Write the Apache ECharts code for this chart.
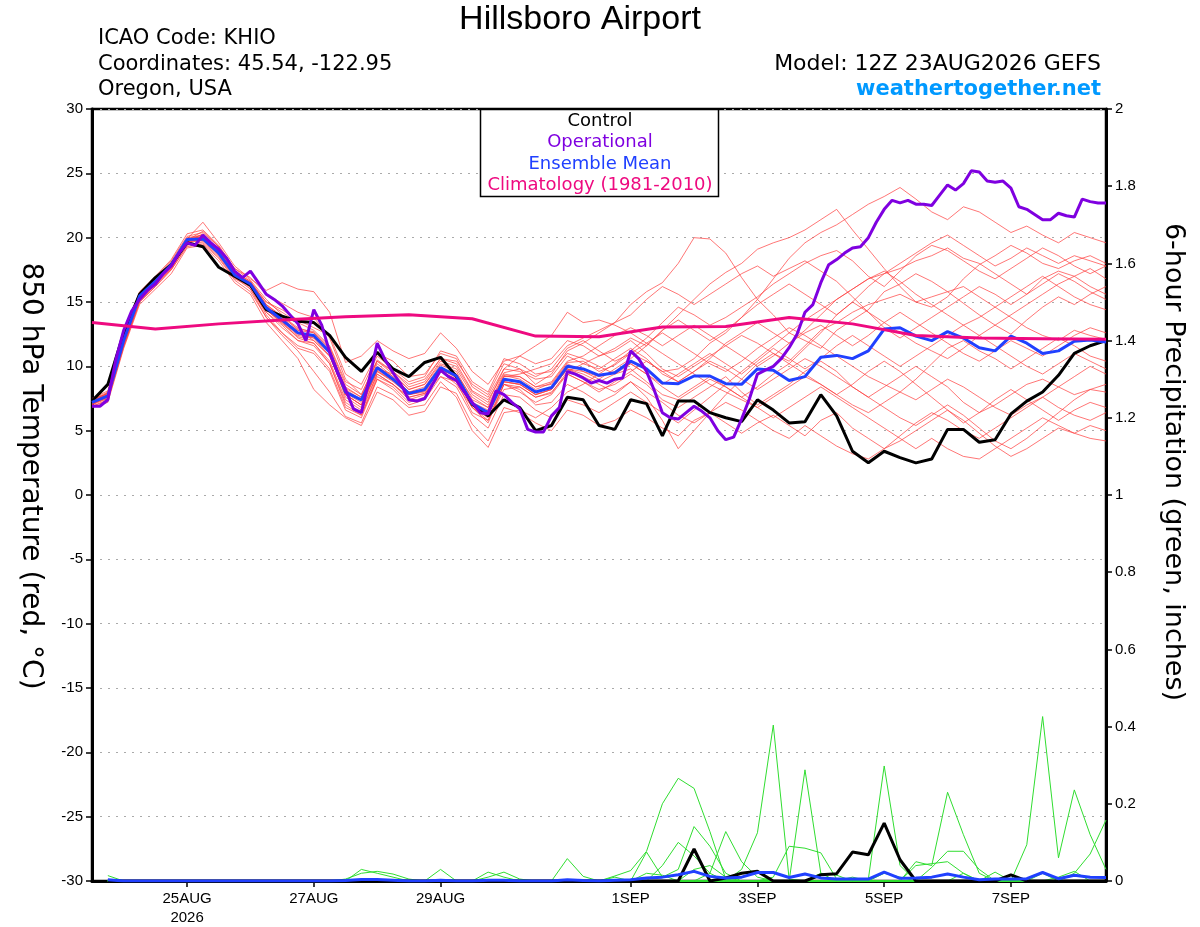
<!DOCTYPE html>
<html><head><meta charset="utf-8">
<script src="https://cdn.jsdelivr.net/npm/echarts@6/dist/echarts.min.js"></script>
<style>html,body{margin:0;padding:0;background:#fff}#c{width:1200px;height:927px}</style>
</head><body><div id="c"></div>
<script>
// ---- time axis (hours since 23AUG2026 00Z) ----
const tickHours = [48, 96, 144, 216, 264, 312, 360];
const tickLabels = ['25AUG\n2026', '27AUG', '29AUG', '1SEP', '3SEP', '5SEP', '7SEP'];

// ---- 850 hPa temperature (6-hourly from 23AUG 12Z) ----
const controlTemp = [7.3,8.6,12.6,15.6,16.9,17.9,19.6,19.3,17.7,17.0,16.3,14.4,13.9,13.5,13.4,12.4,10.7,9.6,11.1,9.8,9.2,10.3,10.7,9.2,7.05,6.15,7.4,6.8,5.0,5.4,7.6,7.4,5.4,5.1,7.4,7.1,4.6,7.3,7.3,6.4,6.0,5.7,7.4,6.6,5.6,5.7,7.8,6.15,3.4,2.5,3.4,2.9,2.5,2.8,5.1,5.1,4.1,4.3,6.3,7.3,8.0,9.3,11.0,11.6,12.0];
const meanTemp = [7.2,7.7,12.0,15.45,16.6,17.9,19.85,19.9,18.8,17.1,16.4,14.55,13.6,12.6,12.4,11.1,8.0,7.4,9.9,9.0,7.9,8.2,9.9,9.25,7.1,6.4,9.0,8.8,8.0,8.35,10.0,9.8,9.3,9.5,10.4,9.8,8.7,8.65,9.25,9.25,8.65,8.6,9.8,9.7,8.9,9.2,10.7,10.85,10.6,11.2,12.9,13.0,12.35,12.0,12.7,12.2,11.45,11.2,12.35,11.8,11.0,11.2,11.95,12.05,11.9];
// operational run is 3-hourly
const operationalTemp = [6.9,6.9,7.4,10.5,12.8,14.3,15.2,15.9,16.4,17.2,17.8,18.8,19.6,19.4,20.2,19.6,19.1,18.4,17.4,16.9,17.4,16.5,15.6,15.2,14.7,14.0,13.3,12.0,14.4,13.2,11.1,9.5,8.2,6.7,6.4,9.0,11.8,10.5,9.5,8.6,7.4,7.3,7.5,8.6,9.7,9.2,8.9,8.0,7.2,6.4,6.3,8.1,7.8,7.2,6.7,5.1,4.9,4.9,6.15,6.8,9.6,9.4,9.1,8.7,8.9,8.7,9.0,9.1,11.2,10.6,9.6,8.1,6.4,6.0,5.9,6.4,6.9,6.5,6.0,5.0,4.3,4.5,5.9,7.5,9.4,9.7,10.0,10.6,11.45,12.5,14.2,14.8,16.5,17.9,18.3,18.8,19.2,19.3,20.0,21.2,22.2,22.9,22.7,22.9,22.6,22.6,22.5,23.3,24.1,23.7,24.2,25.2,25.1,24.4,24.3,24.4,23.85,22.4,22.2,21.8,21.4,21.4,21.9,21.7,21.6,23.0,22.8,22.7,22.7];
// climatology, daily at 12Z
const climatologyTemp = [13.4,12.9,13.3,13.6,13.85,14.0,13.7,12.35,12.3,13.05,13.1,13.8,13.3,12.4,12.2,12.15,12.1];

const member01 = [7.0,8.0,12.5,15.8,17.0,18.3,20.3,20.6,19.4,17.6,16.9,15.6,14.9,14.2,13.8,12.2,9.0,7.8,10.5,9.6,8.6,9.0,10.6,10.2,8.1,7.4,9.5,9.8,8.6,9.4,11.2,11.8,12.6,13.4,14.8,15.8,16.5,18.0,20.0,19.9,18.8,16.9,15.2,14.0,12.6,12.0,11.4,12.8,13.6,14.4,15.8,16.4,17.2,16.6,15.8,14.9,14.0,13.2,12.5,13.6,14.6,15.4,14.8,15.6,16.2];
const member02 = [7.4,7.9,11.6,15.0,16.4,17.6,19.6,20.0,19.2,17.4,16.0,14.2,13.0,12.0,11.8,10.2,7.2,6.4,9.4,8.6,7.6,7.9,9.2,8.8,6.4,5.8,8.2,8.4,7.6,7.9,9.6,10.2,10.8,11.4,12.2,11.6,12.8,14.0,15.2,16.4,17.3,18.0,19.1,19.6,20.0,20.6,21.4,22.2,20.6,19.1,17.6,16.2,15.0,14.6,15.4,16.8,17.9,18.6,19.4,18.8,18.0,17.6,18.2,18.6,18.0];
const member03 = [7.1,7.5,12.2,15.6,16.8,18.1,20.0,20.2,19.0,17.3,16.6,14.8,13.9,13.0,12.6,11.3,8.3,7.6,10.2,9.2,8.0,8.4,10.1,9.6,7.4,6.8,9.3,9.0,8.2,8.7,10.3,10.4,9.6,10.1,11.0,10.4,9.6,9.8,10.6,11.8,12.6,13.8,15.2,16.8,18.4,19.6,20.4,21.0,21.8,22.6,23.2,23.9,23.0,22.0,21.4,22.4,22.0,21.2,20.4,20.9,20.2,19.6,20.4,20.0,19.6];
const member04 = [6.8,7.2,11.4,14.8,16.0,17.2,19.2,19.4,18.2,16.5,15.6,13.4,12.0,10.6,8.2,7.0,6.0,5.4,8.0,7.4,6.2,6.5,8.4,7.9,5.5,4.2,6.8,6.4,5.6,5.0,6.6,6.2,5.4,5.8,6.6,6.0,5.2,4.6,5.8,6.4,5.6,4.8,5.6,6.2,5.4,4.6,5.8,6.4,5.2,4.4,3.6,4.2,5.0,5.8,6.6,5.8,4.8,3.8,3.0,3.6,4.4,5.2,4.8,5.4,5.0];
const member05 = [7.3,7.8,12.3,15.5,16.7,18.0,19.9,21.2,19.6,17.8,16.8,15.9,16.5,16.0,15.8,14.2,10.3,10.8,12.0,11.2,10.6,11.0,12.6,11.4,9.6,8.6,10.4,10.8,10.2,10.6,12.0,11.6,10.8,11.2,12.0,11.0,9.8,9.2,10.0,10.8,11.6,12.4,11.8,11.0,10.4,11.6,12.8,13.4,14.2,14.8,15.2,15.6,15.0,15.4,15.8,16.2,15.4,14.6,13.8,13.0,12.4,12.0,12.8,12.4,12.1];
const member06 = [7.2,7.6,11.8,15.2,16.4,17.7,19.5,19.6,18.5,16.8,16.2,14.0,12.6,11.4,11.0,9.6,6.6,6.0,9.0,8.4,7.2,7.6,9.6,8.6,6.8,5.6,8.6,8.0,7.2,7.8,9.4,8.8,8.2,8.6,9.4,8.6,7.4,6.8,7.6,8.4,9.2,8.0,7.0,7.8,8.6,9.6,10.4,9.6,8.4,7.6,8.4,9.2,10.0,9.2,8.4,7.2,6.4,7.0,7.8,8.6,9.0,8.4,7.8,8.2,8.0];
const member07 = [7.0,7.7,12.1,15.3,16.5,17.8,19.8,20.1,19.0,17.2,16.5,15.0,14.4,13.6,13.0,12.4,9.4,8.6,11.0,10.4,9.2,9.4,11.0,10.6,8.4,7.6,9.8,9.6,9.0,9.2,10.8,10.2,9.8,10.6,11.4,10.6,9.4,8.8,9.6,10.6,11.8,12.6,13.4,12.6,11.8,12.8,14.0,15.2,16.0,16.8,17.2,17.6,18.2,18.6,19.2,18.4,18.0,17.2,16.4,15.6,16.4,17.2,16.6,15.8,15.2];
const member08 = [7.5,8.1,12.6,15.7,16.9,18.2,20.1,20.4,19.3,17.6,16.7,15.2,14.0,12.8,12.0,10.8,7.8,7.0,9.8,9.4,8.2,8.6,10.4,10.0,8.0,7.2,9.8,10.8,11.6,12.4,14.2,13.4,13.6,13.2,12.6,11.8,11.0,10.2,9.4,8.6,8.0,7.4,6.8,7.6,8.4,9.2,8.6,7.8,7.0,6.4,7.2,8.0,9.0,10.2,11.4,12.0,11.2,10.6,9.8,10.6,11.4,12.2,11.6,10.8,10.4];
const member09 = [6.9,7.4,11.5,15.0,16.2,17.5,19.4,19.7,18.6,16.9,16.0,13.8,12.4,11.2,9.6,8.0,6.1,5.6,8.4,7.8,6.8,7.0,8.8,7.6,5.0,3.7,6.4,6.6,6.0,6.8,8.0,8.6,9.4,10.2,11.2,12.2,13.4,14.6,14.0,13.2,13.8,14.6,15.4,16.4,17.2,18.0,18.6,19.0,18.2,17.0,16.2,17.4,18.6,19.4,19.0,18.2,17.4,16.8,17.6,18.4,19.2,18.6,17.8,17.2,17.8];
const member10 = [7.3,7.9,12.4,15.6,16.8,18.0,19.7,19.8,18.7,17.0,16.3,14.4,13.4,12.4,12.2,11.2,8.4,7.6,10.4,9.6,8.4,8.8,10.6,10.4,8.6,7.8,10.2,9.8,9.2,9.8,11.4,12.0,11.2,10.4,11.0,11.8,12.6,11.8,11.0,10.2,9.6,10.4,11.4,12.2,13.0,12.4,11.6,10.8,10.0,9.2,8.6,8.0,7.4,8.2,9.0,8.4,7.6,6.8,6.2,7.0,7.6,6.8,6.2,5.8,6.4];
const member11 = [7.1,7.6,11.9,15.2,16.5,17.8,19.7,20.3,19.1,17.4,16.6,15.0,14.2,13.4,12.8,11.6,8.8,8.2,10.8,9.8,8.8,9.2,11.2,10.8,8.8,8.0,10.6,10.2,9.4,9.6,11.0,10.6,10.0,9.4,9.8,8.8,7.8,7.4,8.2,9.0,8.4,7.6,8.4,9.4,10.2,11.4,12.6,14.0,15.0,14.2,13.4,12.6,11.8,11.2,10.6,11.4,12.4,13.2,14.0,14.8,15.6,16.4,17.0,16.2,15.6];
const member12 = [7.2,7.7,12.0,15.4,16.6,17.9,19.9,20.0,18.9,17.2,16.4,14.6,13.6,12.8,12.6,11.4,8.2,7.4,10.0,9.2,8.0,8.2,9.8,9.2,7.2,6.4,8.8,8.6,7.8,8.2,9.8,9.2,8.6,8.0,8.8,8.0,7.2,6.2,5.6,6.4,7.2,6.6,5.8,5.0,4.4,5.4,4.6,3.8,3.2,2.8,3.6,4.6,5.6,6.4,5.8,5.0,4.4,5.2,6.0,6.8,7.6,8.4,9.2,10.0,9.4];
const member13 = [7.4,8.0,12.2,15.5,16.7,18.0,19.8,20.5,19.3,17.4,16.4,14.7,13.8,12.6,12.4,11.0,7.6,6.8,9.6,8.8,7.8,8.0,9.6,9.4,7.6,6.8,9.2,9.4,9.8,10.2,11.6,12.2,12.8,13.4,14.0,15.2,16.2,15.6,14.8,15.6,16.4,17.2,17.8,17.0,17.6,18.2,17.4,16.6,15.4,14.2,13.0,12.2,13.0,13.8,14.6,15.4,16.2,15.6,14.8,15.6,16.8,17.4,17.0,17.6,16.8];
const member14 = [7.0,7.5,11.7,15.1,16.3,17.6,19.6,19.8,18.7,17.0,16.2,14.2,13.2,12.0,11.6,10.2,7.0,6.2,9.2,8.6,7.4,7.8,9.6,9.0,6.8,5.8,8.6,8.2,7.0,7.2,8.6,8.0,7.2,7.8,8.8,7.6,5.8,3.6,5.0,6.4,7.8,9.0,10.2,11.0,10.2,9.4,8.6,7.8,8.6,9.6,10.4,9.6,8.6,7.6,6.6,5.6,6.4,7.4,8.2,7.4,6.6,5.8,6.6,7.2,6.8];
const member15 = [7.3,7.8,12.2,15.4,16.5,17.8,19.8,20.0,18.9,17.1,16.3,14.5,13.5,12.5,12.3,11.0,7.9,7.2,9.8,9.0,7.9,8.2,9.9,9.4,7.2,6.6,9.2,9.2,8.4,8.8,10.4,10.8,11.6,12.4,13.0,12.4,11.6,12.4,13.2,12.4,11.6,10.8,10.0,10.8,11.8,12.6,13.2,12.4,11.6,12.4,13.4,14.2,13.4,12.6,11.8,11.0,10.4,11.2,12.0,11.4,10.8,11.6,12.4,13.0,12.6];
const member16 = [7.1,7.6,11.9,15.3,16.5,17.8,19.7,19.9,18.8,17.0,16.3,14.4,13.3,12.3,12.0,10.8,7.8,7.0,9.6,8.9,7.8,8.1,9.8,9.2,7.0,6.2,8.8,8.6,7.8,8.2,9.8,9.4,8.8,9.4,10.2,9.4,8.4,7.6,8.4,9.2,8.4,7.6,6.8,6.0,6.8,7.6,8.4,7.6,6.8,6.0,5.2,4.4,3.6,4.4,3.6,3.0,2.8,3.6,4.4,5.2,6.0,5.4,4.8,4.4,4.2];
const member17 = [7.2,7.8,12.1,15.5,16.6,17.9,19.9,20.2,19.1,17.3,16.5,14.8,13.8,12.9,12.7,11.5,8.6,7.8,10.4,9.4,8.2,8.6,10.2,9.8,7.8,7.0,9.4,9.2,8.4,8.6,10.2,9.6,9.0,9.8,10.6,11.6,12.8,13.6,12.8,12.0,12.8,13.8,14.8,15.6,16.4,15.6,14.8,14.0,15.0,16.2,17.2,18.0,18.8,19.6,20.2,19.4,18.6,17.8,18.4,19.2,18.6,18.0,18.6,18.2,17.8];
const member18 = [7.4,7.9,12.3,15.6,16.7,18.0,19.9,20.1,19.0,17.2,16.5,14.6,13.5,12.6,12.2,10.8,7.8,7.0,9.7,8.9,7.8,8.1,9.8,9.1,7.0,6.3,8.8,8.6,7.8,8.2,9.8,9.6,9.2,9.6,10.2,9.4,8.6,9.4,10.2,11.0,10.2,9.4,10.4,11.4,10.6,9.8,10.6,11.6,12.4,11.6,10.8,10.0,10.8,11.6,12.4,13.2,12.4,11.6,10.8,10.0,9.4,10.2,11.0,10.4,9.8];
const member19 = [6.9,7.3,11.6,15.0,16.2,17.5,19.3,19.5,18.4,16.7,15.8,13.8,12.6,11.6,11.2,9.8,6.8,6.2,9.0,8.2,7.0,7.4,9.2,8.4,6.2,5.2,7.8,7.6,6.6,6.0,7.4,7.0,6.4,7.2,8.0,7.2,6.4,5.6,6.6,7.6,8.6,9.6,10.6,11.6,12.6,13.6,14.4,15.2,16.0,16.8,17.4,16.6,15.6,14.8,14.0,13.2,13.8,14.6,15.4,16.2,17.0,16.2,15.4,14.8,14.4];
const member20 = [7.2,7.7,12.0,15.4,16.6,17.9,19.8,20.0,18.9,17.1,16.4,14.4,13.4,12.2,11.8,10.4,7.4,6.6,9.4,8.6,7.6,7.9,9.6,9.0,6.8,6.0,8.6,8.4,7.6,8.0,9.4,8.8,8.0,8.8,9.6,10.4,9.6,8.8,9.6,10.4,9.8,9.0,8.2,9.0,9.8,10.6,10.0,9.2,8.4,7.6,6.8,6.0,5.4,6.2,7.0,6.2,5.2,4.2,3.6,4.4,5.4,6.4,7.4,8.2,8.6];
const memberTemps = [member01,member02,member03,member04,member05,member06,member07,member08,member09,member10,member11,member12,member13,member14,member15,member16,member17,member18,member19,member20];

// ---- 6-hour precipitation (inches), 6-hourly; first step has no accumulation ----
const controlPrecip = [null,0,0,0,0,0,0,0,0,0, 0,0,0,0,0,0,0,0,0,0, 0,0,0,0,0,0,0,0,0,0, 0,0,0,0,0,0,0,0,0.083,0, 0.008,0.02,0.025,0,0,0,0.016,0.019,0.075,0.068, 0.15,0.055,0,0,0,0,0,0,0.016,0, 0,0,0,0,0];
const meanPrecip = [null,0.003,0,0,0,0,0,0,0,0, 0,0,0,0,0,0,0.001,0.004,0.004,0.002, 0,0,0.002,0,0,0.002,0.002,0,0,0, 0.003,0.001,0,0.002,0.003,0.008,0.010,0.016,0.025,0.012, 0.008,0.010,0.022,0.022,0.009,0.018,0.008,0.005,0.005,0.005, 0.023,0.007,0.008,0.010,0.018,0.010,0.003,0.005,0.005,0.006, 0.022,0.006,0.015,0.010,0.009];
const precip01 = [null,0,0,0,0,0,0,0,0,0, 0,0,0,0,0,0,0,0,0,0, 0,0,0,0,0,0,0,0,0,0, 0,0,0,0.013,0.027,0.077,0.20,0.266,0.24,0.128, 0.005,0,0,0,0,0,0,0,0,0, 0,0,0,0,0,0,0,0,0,0, 0,0,0,0,0];
const precip02 = [null,0,0,0,0,0,0,0,0,0, 0,0,0,0,0,0,0,0,0,0, 0,0,0,0,0,0,0,0,0,0, 0,0,0,0,0,0.075,0.01,0.03,0.141,0.09, 0.02,0,0,0,0,0,0,0,0,0, 0,0,0,0,0,0,0,0,0,0, 0,0,0,0,0];
const precip03 = [null,0,0,0,0,0,0,0,0,0, 0,0,0,0,0,0,0,0,0,0, 0,0,0,0,0,0,0,0,0,0, 0,0,0,0,0,0,0,0,0,0.02, 0.128,0.05,0.01,0,0,0,0,0,0,0, 0,0,0,0,0,0,0,0,0,0, 0,0,0,0,0];
const precip04 = [null,0,0,0,0,0,0,0,0,0, 0,0,0,0,0,0,0,0,0,0, 0,0,0,0,0,0,0,0,0,0, 0,0,0,0,0,0,0,0,0,0, 0,0.03,0.125,0.404,0.005,0,0,0,0,0, 0,0,0,0,0,0,0,0,0,0, 0,0,0,0,0];
const precip05 = [null,0,0,0,0,0,0,0,0,0, 0,0,0,0,0,0,0,0,0,0, 0,0,0,0,0,0,0,0,0,0, 0,0,0,0,0,0,0,0,0,0, 0,0,0,0,0,0.288,0.02,0,0,0, 0,0,0,0,0,0,0,0,0,0, 0,0,0,0,0];
const precip06 = [null,0,0,0,0,0,0,0,0,0, 0,0,0,0,0,0,0,0,0,0, 0,0,0,0,0,0,0,0,0,0, 0,0,0,0,0,0,0,0,0,0, 0,0,0,0.01,0.09,0.085,0.073,0.005,0,0, 0,0,0,0,0,0,0,0,0,0, 0,0,0,0,0];
const precip07 = [null,0,0,0,0,0,0,0,0,0, 0,0,0,0,0,0,0,0,0,0, 0,0,0,0,0,0,0,0,0,0, 0,0,0,0,0,0,0,0,0,0, 0,0,0,0,0,0,0,0,0,0.005, 0.298,0.04,0,0,0,0,0,0,0,0, 0,0,0,0,0];
const precip08 = [null,0,0,0,0,0,0,0,0,0, 0,0,0,0,0,0,0,0,0,0, 0,0,0,0,0,0,0,0,0,0, 0,0,0,0,0,0,0,0,0,0, 0,0,0,0,0,0,0,0,0,0, 0,0,0.05,0.04,0.23,0.12,0.02,0,0,0, 0,0,0,0,0];
const precip09 = [null,0,0,0,0,0,0,0,0,0, 0,0,0,0,0,0,0,0,0,0, 0,0,0,0,0,0,0,0,0,0, 0,0,0,0,0,0,0,0,0,0, 0,0,0,0,0,0,0,0,0,0, 0,0,0,0.035,0.077,0.077,0.03,0,0,0, 0,0,0,0,0];
const precip10 = [null,0,0,0,0,0,0,0,0,0, 0,0,0,0,0,0,0,0,0,0, 0,0,0,0,0,0,0,0,0,0, 0,0,0,0,0,0,0,0,0,0, 0,0,0,0,0,0,0,0,0,0, 0,0,0.04,0.045,0.05,0.02,0,0.023,0,0, 0,0,0,0,0];
const precip11 = [null,0,0,0,0,0,0,0,0,0, 0,0,0,0,0,0,0,0,0,0, 0,0,0,0,0,0,0,0,0,0, 0,0,0,0,0,0,0,0,0,0, 0,0,0,0,0,0,0,0,0,0, 0,0,0,0,0,0,0,0,0,0.094, 0.426,0.06,0.236,0.12,0.03];
const precip12 = [null,0,0,0,0,0,0,0,0,0, 0,0,0,0,0,0,0,0,0,0, 0,0,0,0,0,0,0,0,0,0, 0,0,0,0,0,0,0,0,0,0, 0,0,0,0,0,0,0,0,0,0, 0,0,0,0,0,0,0,0,0,0, 0,0,0.02,0.07,0.158];
const precip13 = [null,0.014,0,0,0,0,0,0,0,0, 0,0,0,0,0,0,0,0.03,0.02,0.01, 0,0,0,0,0,0,0,0,0,0, 0,0,0,0,0,0,0,0,0,0, 0,0,0,0,0,0,0,0,0,0, 0,0,0,0,0,0,0,0,0,0, 0,0,0,0,0];
const precip14 = [null,0,0,0,0,0,0,0,0,0, 0,0,0,0,0,0,0.005,0.02,0.025,0.018, 0.005,0,0,0,0,0,0,0,0,0, 0,0,0,0,0,0,0,0,0,0, 0,0,0,0,0,0,0,0,0,0, 0,0,0,0,0,0,0,0,0,0, 0,0,0,0,0];
const precip15 = [null,0,0,0,0,0,0,0,0,0, 0,0,0,0,0,0,0,0,0,0, 0,0,0.03,0,0,0.01,0.023,0.005,0,0, 0,0,0,0,0,0,0,0,0,0, 0,0,0,0,0,0,0,0,0,0, 0,0,0,0,0,0,0,0,0,0, 0,0,0,0,0];
const precip16 = [null,0,0,0,0,0,0,0,0,0, 0,0,0,0,0,0,0,0,0,0, 0,0,0,0,0,0.023,0.01,0,0,0, 0.058,0.012,0,0,0,0,0,0,0,0, 0,0,0,0,0,0,0,0,0,0, 0,0,0,0,0,0,0,0,0,0, 0,0,0,0,0];
const precip17 = [null,0,0,0,0,0,0,0,0,0, 0,0,0,0,0,0,0,0,0,0, 0,0,0,0,0,0,0,0,0,0, 0,0,0,0.01,0,0.02,0.015,0,0.03,0.04, 0.01,0,0,0,0,0,0,0,0,0, 0,0,0,0,0,0,0,0,0,0, 0,0,0,0,0];
const precip18 = [null,0,0,0,0,0,0,0,0,0, 0,0,0,0,0,0,0,0,0,0, 0,0,0,0,0,0,0,0,0,0, 0,0,0,0,0,0,0,0,0,0, 0,0,0,0,0,0,0.02,0.015,0,0, 0,0,0,0,0,0.02,0,0,0,0, 0,0.01,0.025,0,0];
const precip19 = [null,0,0,0,0,0,0,0,0,0, 0,0,0,0,0,0,0,0,0,0, 0,0,0,0,0,0,0,0,0,0, 0,0,0,0,0,0,0.04,0.10,0.065,0.02, 0,0,0,0,0,0,0,0,0,0, 0,0,0,0,0,0,0,0,0,0, 0,0,0,0,0];
const precip20 = [null,0,0,0,0,0,0,0,0,0, 0,0,0,0,0,0,0,0,0,0, 0,0,0,0,0,0,0,0,0,0, 0,0,0,0,0,0,0,0,0,0, 0,0,0,0,0,0,0,0,0.01,0, 0.02,0.01,0,0,0,0,0,0,0.015,0, 0.02,0,0,0,0];
const memberPrecips = [precip01,precip02,precip03,precip04,precip05,precip06,precip07,precip08,precip09,precip10,precip11,precip12,precip13,precip14,precip15,precip16,precip17,precip18,precip19,precip20];

// ---- helpers mapping arrays onto the time axis ----
const START = 12; // 23AUG 12Z
const at6 = a => a.map((v, i) => [START + 6 * i, v]);
const at3 = a => a.map((v, i) => [START + 3 * i, v]);
const at24 = a => a.map((v, i) => [START + 24 * i, v]);

const FONT = '"Liberation Sans", Arial, Helvetica, sans-serif';
const WFONT = '"DejaVu Sans", Verdana, sans-serif';
const C_OP = '#7f00e0', C_MEAN = '#2040ff', C_CLIM = '#ee0a80', C_RED = 'rgba(255,60,60,0.7)', C_GREEN = '#30dd30';

const series = [];
memberTemps.forEach(m => series.push({type:'line', data: at6(m), xAxisIndex:0, yAxisIndex:0, symbol:'none', lineStyle:{color:C_RED, width:1}, z:2, silent:true}));
memberPrecips.forEach(m => series.push({type:'line', data: at6(m), xAxisIndex:0, yAxisIndex:1, symbol:'none', connectNulls:false, lineStyle:{color:C_GREEN, width:1}, z:2, silent:true}));
series.push({type:'line', data: at6(controlTemp), yAxisIndex:0, symbol:'none', lineStyle:{color:'#000', width:3}, z:3});
series.push({type:'line', data: at6(controlPrecip), yAxisIndex:1, symbol:'none', lineStyle:{color:'#000', width:3}, z:3});
series.push({type:'line', data: at6(meanTemp), yAxisIndex:0, symbol:'none', lineStyle:{color:C_MEAN, width:3}, z:4});
series.push({type:'line', data: at6(meanPrecip), yAxisIndex:1, symbol:'none', lineStyle:{color:C_MEAN, width:3}, z:4});
series.push({type:'line', data: at3(operationalTemp), yAxisIndex:0, symbol:'none', lineStyle:{color:C_OP, width:3}, z:5});
series.push({type:'line', data: at24(climatologyTemp), yAxisIndex:0, symbol:'none', lineStyle:{color:C_CLIM, width:3}, z:6});

const chart = echarts.init(document.getElementById('c'), null, {renderer:'canvas'});
chart.setOption({
  animation: false,
  backgroundColor: '#fff',
  grid: {left: 92, right: 94, top: 109, bottom: 44, show: true, borderColor: '#000', borderWidth: 2.5, backgroundColor: 'transparent'},
  xAxis: {
    type: 'value', min: 12, max: 396,
    axisLine: {show: true, onZero: false, lineStyle: {color: '#000', width: 3}},
    axisTick: {show: true, length: 6, customValues: tickHours, lineStyle: {color: '#000', width: 1.5}},
    axisLabel: {customValues: tickHours, color: '#000', fontSize: 15, fontFamily: FONT, margin: 8, lineHeight: 19,
      formatter: v => tickLabels[tickHours.indexOf(v)] || ''},
    splitLine: {show: false}
  },
  yAxis: [
    {type: 'value', position: 'left', min: -30, max: 30, interval: 5,
     axisLine: {show: true, lineStyle: {color: '#000', width: 3}},
     axisTick: {show: true, length: 6, lineStyle: {color: '#000', width: 1.5}},
     axisLabel: {color: '#000', fontSize: 15, fontFamily: FONT, margin: 9},
     splitLine: {show: true, lineStyle: {color: '#aaaaaa', width: 1, type: [2, 6]}}},
    {type: 'value', position: 'right', min: 0, max: 2, interval: 0.2,
     axisLine: {show: true, lineStyle: {color: '#000', width: 3}},
     axisTick: {show: true, length: 6, lineStyle: {color: '#000', width: 1.5}},
     axisLabel: {color: '#000', fontSize: 15, fontFamily: FONT, margin: 9},
     splitLine: {show: false}}
  ],
  series: series,
  graphic: [
    {type:'text', x: 580, y: 20, z: 10, style:{text:'Hillsboro Airport', font:'34px '+FONT, fill:'#000', align:'center', verticalAlign:'middle'}},
    {type:'text', x: 98, y: 39, z: 10, style:{text:'ICAO Code: KHIO', font:'21px '+WFONT, fill:'#000', verticalAlign:'middle'}},
    {type:'text', x: 98, y: 64.5, z: 10, style:{text:'Coordinates: 45.54, -122.95', font:'21px '+WFONT, fill:'#000', verticalAlign:'middle'}},
    {type:'text', x: 98, y: 90, z: 10, style:{text:'Oregon, USA', font:'21px '+WFONT, fill:'#000', verticalAlign:'middle'}},
    {type:'text', x: 1101, y: 64, z: 10, style:{text:'Model: 12Z 23AUG2026 GEFS', font:'22px '+WFONT, fill:'#000', align:'right', verticalAlign:'middle'}},
    {type:'text', x: 1101, y: 90, z: 10, style:{text:'weathertogether.net', font:'bold 21px '+WFONT, fill:'#0099ff', align:'right', verticalAlign:'middle'}},
    {type:'rect', z: 20, shape:{x: 480.5, y: 109.5, width: 238, height: 87}, style:{fill:'#fff', stroke:'#000', lineWidth: 1.5}},
    {type:'text', z: 21, x: 600, y: 121, style:{text:'Control', font:'18px '+WFONT, fill:'#000', align:'center', verticalAlign:'middle'}},
    {type:'text', z: 21, x: 600, y: 142.5, style:{text:'Operational', font:'18px '+WFONT, fill:C_OP, align:'center', verticalAlign:'middle'}},
    {type:'text', z: 21, x: 600, y: 164, style:{text:'Ensemble Mean', font:'18px '+WFONT, fill:C_MEAN, align:'center', verticalAlign:'middle'}},
    {type:'text', z: 21, x: 600, y: 185.5, style:{text:'Climatology (1981-2010)', font:'18px '+WFONT, fill:C_CLIM, align:'center', verticalAlign:'middle'}},
    {type:'text', z: 10, x: 30, y: 476, rotation: -Math.PI/2, style:{text:'850 hPa Temperature (red, \u00B0C)', font:'28px '+WFONT, fill:'#000', align:'center', verticalAlign:'middle'}},
    {type:'text', z: 10, x: 1173, y: 462, rotation: -Math.PI/2, style:{text:'6-hour Precipitation (green, inches)', font:'27px '+WFONT, fill:'#000', align:'center', verticalAlign:'middle'}}
  ]
});
</script>
</body></html>
